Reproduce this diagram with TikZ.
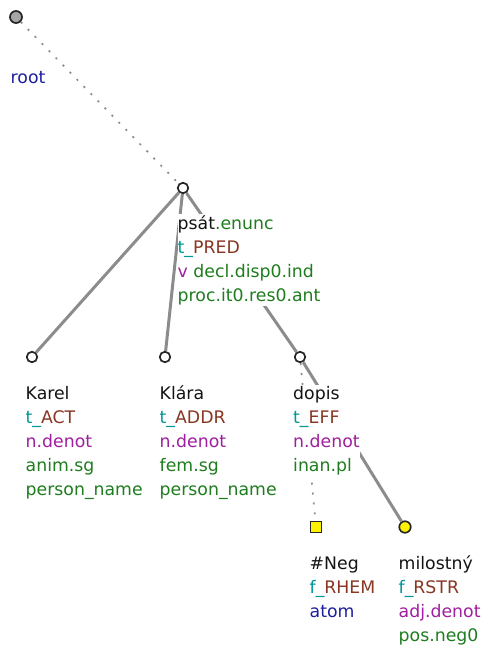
\documentclass[tikz,border=0pt]{standalone}
\usepackage{fontspec}
\setmainfont{DejaVu Sans}
\usepackage{xcolor}
\definecolor{lemc}{RGB}{20,20,20}
\definecolor{tc}{RGB}{0,150,150}
\definecolor{fnc}{RGB}{135,55,35}
\definecolor{semc}{RGB}{160,30,160}
\definecolor{grmc}{RGB}{30,125,30}
\definecolor{rootc}{RGB}{30,30,160}
\definecolor{edgec}{RGB}{140,140,140}

\begin{document}
\begin{tikzpicture}[x=1pt,y=1pt,
  vtx/.style={circle,draw=black!85,line width=1.7pt,fill=white,inner sep=0pt,minimum size=10.5pt},
  tedge/.style={draw=edgec,line width=3pt},
  nulledge/.style={draw=edgec,line width=1.7pt,dash pattern=on 2pt off 8pt},
  lab/.style={anchor=base west,align=left,fill=white,inner xsep=0pt,inner ysep=1pt,font=\fontsize{17.3}{24}\selectfont}]
\useasboundingbox (0,0) rectangle (480,-648);
\node[vtx,fill=gray!70,minimum size=12pt] (root) at (16,-17) {};
\node[vtx] (psat) at (183,-188) {};
\node[vtx] (karel) at (32,-357) {};
\node[vtx] (klara) at (165,-357) {};
\node[vtx] (dopis) at (300,-357) {};
\node[rectangle,draw=black!85,line width=1.7pt,fill=yellow,inner sep=0pt,minimum size=11pt] (neg) at (316,-527) {};
\node[vtx,fill=yellow,minimum size=11.5pt] (milostny) at (405,-527) {};
\draw[nulledge] (root) -- (psat);
\draw[tedge] (psat) -- (karel);
\draw[tedge] (psat) -- (klara);
\draw[tedge] (psat) -- (dopis);
\draw[nulledge] (dopis) -- (neg);
\draw[tedge] (dopis) -- (milostny);
\node[lab] (rootlab) at (10.5,-83) {\textcolor{rootc}{root}};
\node[lab] (psatlab) at (177.5,-301) {\textcolor{lemc}{psát}\textcolor{grmc}{.enunc}\\
  \textcolor{tc}{t\_}\textcolor{fnc}{PRED}\\
  \textcolor{semc}{v} \textcolor{grmc}{decl.disp0.ind}\\
  \textcolor{grmc}{proc.it0.res0.ant}};
\node[lab] (karellab) at (25.5,-495) {\textcolor{lemc}{Karel}\\
  \textcolor{tc}{t\_}\textcolor{fnc}{ACT}\\
  \textcolor{semc}{n.denot}\\
  \textcolor{grmc}{anim.sg}\\
  \textcolor{grmc}{person\_name}};
\node[lab] (klaralab) at (159.5,-495) {\textcolor{lemc}{Klára}\\
  \textcolor{tc}{t\_}\textcolor{fnc}{ADDR}\\
  \textcolor{semc}{n.denot}\\
  \textcolor{grmc}{fem.sg}\\
  \textcolor{grmc}{person\_name}};
\node[lab] (dopislab) at (293,-471) {\textcolor{lemc}{dopis}\\
  \textcolor{tc}{t\_}\textcolor{fnc}{EFF}\\
  \textcolor{semc}{n.denot}\\
  \textcolor{grmc}{inan.pl}};
\node[lab] (neglab) at (309.5,-617.5) {\textcolor{lemc}{\#Neg}\\
  \textcolor{tc}{f\_}\textcolor{fnc}{RHEM}\\
  \textcolor{rootc}{atom}};
\node[lab] (milostnylab) at (398.5,-641.5) {\textcolor{lemc}{milostný}\\
  \textcolor{tc}{f\_}\textcolor{fnc}{RSTR}\\
  \textcolor{semc}{adj.denot}\\
  \textcolor{grmc}{pos.neg0}};
\end{tikzpicture}
\end{document}
